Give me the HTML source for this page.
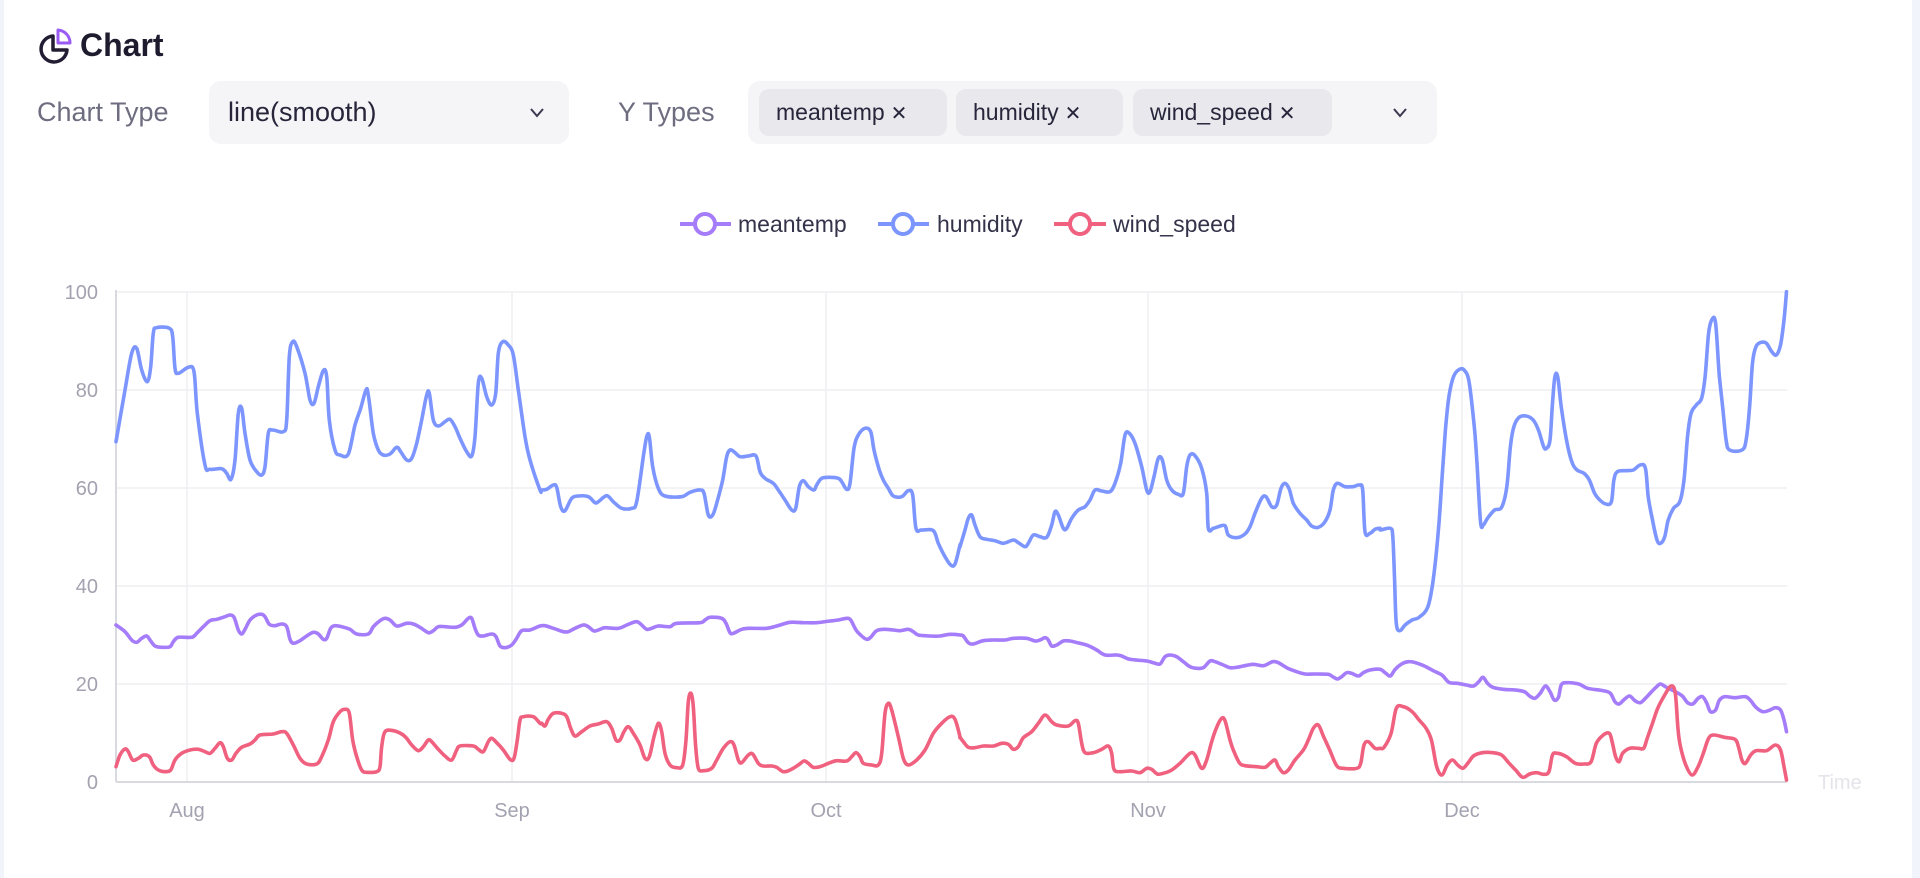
<!DOCTYPE html>
<html><head><meta charset="utf-8">
<style>
body{margin:0;width:1920px;height:878px;background:#fff;position:relative;overflow:hidden;font-family:"Liberation Sans",sans-serif;}
.a{position:absolute;}
.lbl{color:#6e6d80;font-size:27px;top:97px;}
.box{background:#f5f5f8;border-radius:12px;top:81px;height:63px;}
.tag{background:#e9e8ed;border-radius:10px;top:89px;height:47px;line-height:47px;font-size:23px;color:#27253a;padding-left:17px;box-sizing:border-box;}
.tag span{font-size:20px;margin-left:6px;}
</style></head><body>
<div class="a" style="left:0;top:0;width:4px;height:878px;background:#f2f4fb"></div>
<div class="a" style="left:1912px;top:0;width:8px;height:878px;background:#f2f4fb"></div>
<svg class="a" style="left:36px;top:27px" width="40" height="40" viewBox="0 0 40 40">
<path d="M17 9 A13 13 0 1 0 31 23 L17 23 Z" fill="none" stroke="#221d33" stroke-width="3.5" stroke-linejoin="round"/>
<path d="M22 3 A13 13 0 0 1 34 16 L22 16 Z" fill="none" stroke="#9b5cf6" stroke-width="3" stroke-linejoin="round"/>
</svg>
<div class="a" style="left:80px;top:27px;font-size:32px;font-weight:bold;color:#1e1b2e">Chart</div>
<div class="a lbl" style="left:37px">Chart Type</div>
<div class="a box" style="left:209px;width:360px"></div>
<div class="a" style="left:228px;top:97px;font-size:27px;color:#27253a">line(smooth)</div>
<svg class="a" style="left:529px;top:107px" width="16" height="12"><path d="M2 2 L8 9 L14 2" fill="none" stroke="#3b3950" stroke-width="2"/></svg>
<div class="a lbl" style="left:618px">Y Types</div>
<div class="a box" style="left:748px;width:689px"></div>
<div class="a tag" style="left:759px;width:188px">meantemp<span>✕</span></div>
<div class="a tag" style="left:956px;width:167px">humidity<span>✕</span></div>
<div class="a tag" style="left:1133px;width:199px">wind_speed<span>✕</span></div>
<svg class="a" style="left:1392px;top:107px" width="16" height="12"><path d="M2 2 L8 9 L14 2" fill="none" stroke="#3b3950" stroke-width="2"/></svg>

<svg class="a" style="left:0;top:0" width="1920" height="878" id="ch">
<g font-size="23" fill="#35334a">
<line x1="680" y1="224" x2="731" y2="224" stroke="#a57cf9" stroke-width="4"/><circle cx="705" cy="224" r="10" fill="#fff" stroke="#a57cf9" stroke-width="4"/><text x="738" y="232">meantemp</text>
<line x1="878" y1="224" x2="929" y2="224" stroke="#7c95ff" stroke-width="4"/><circle cx="903" cy="224" r="10" fill="#fff" stroke="#7c95ff" stroke-width="4"/><text x="937" y="232">humidity</text>
<line x1="1054" y1="224" x2="1106" y2="224" stroke="#f0607f" stroke-width="4"/><circle cx="1080" cy="224" r="10" fill="#fff" stroke="#f0607f" stroke-width="4"/><text x="1113" y="232">wind_speed</text>
</g>
<g stroke="#efeff2" stroke-width="1.5">
<line x1="116" y1="292" x2="1787" y2="292"/><line x1="116" y1="390" x2="1787" y2="390"/><line x1="116" y1="488" x2="1787" y2="488"/><line x1="116" y1="586" x2="1787" y2="586"/><line x1="116" y1="684" x2="1787" y2="684"/>
<line x1="187" y1="292" x2="187" y2="782"/><line x1="512" y1="292" x2="512" y2="782"/><line x1="826" y1="292" x2="826" y2="782"/><line x1="1148" y1="292" x2="1148" y2="782"/><line x1="1462" y1="292" x2="1462" y2="782"/>
</g>
<line x1="116" y1="290" x2="116" y2="782" stroke="#d9d9e0" stroke-width="2"/>
<line x1="116" y1="782" x2="1787" y2="782" stroke="#d9d9e0" stroke-width="2"/>
<g font-size="20" fill="#a3a2b0" text-anchor="end">
<text x="98" y="299">100</text><text x="98" y="397">80</text><text x="98" y="495">60</text><text x="98" y="593">40</text><text x="98" y="691">20</text><text x="98" y="789">0</text>
</g>
<g font-size="20" fill="#a3a2b0" text-anchor="middle">
<text x="187" y="817">Aug</text><text x="512" y="817">Sep</text><text x="826" y="817">Oct</text><text x="1148" y="817">Nov</text><text x="1462" y="817">Dec</text>
</g>
<text x="1818" y="789" font-size="20" fill="#e4e4ea">Time</text>
<g fill="none" stroke-width="3.6" stroke-linejoin="round" stroke-linecap="round">
<path id="h" stroke="#7c95ff"/><path id="m" stroke="#a57cf9"/><path id="w" stroke="#f0607f"/>
</g>
</svg>
<script>
var Z=[[110,3,0],[530,3,30],[950,3,30],[1370,2.85,28]];
function cv(zs){var out=[];zs.forEach(function(a,i){var z=Z[i];for(var k=0;k<a.length;k+=2){if(a[k]<z[2])continue;out.push([z[0]+a[k]/z[1],280+a[k+1]/3]);}});out.sort(function(p,q){return p[0]-q[0]});return out;}
function path(p){var d="M"+p[0][0].toFixed(1)+" "+p[0][1].toFixed(1);for(var i=0;i<p.length-1;i++){var p0=p[i-1]||p[i],p1=p[i],p2=p[i+1],p3=p[i+2]||p2;var t=6;d+=" C"+(p1[0]+(p2[0]-p0[0])/t).toFixed(1)+" "+(p1[1]+(p2[1]-p0[1])/t).toFixed(1)+" "+(p2[0]-(p3[0]-p1[0])/t).toFixed(1)+" "+(p2[1]-(p3[1]-p1[1])/t).toFixed(1)+" "+p2[0].toFixed(1)+" "+p2[1].toFixed(1);}return d;}
var H=[[18,485,45,330,65,220,80,205,95,270,112,305,122,260,130,160,140,143,178,145,188,170,195,265,205,280,235,262,252,275,262,400,285,555,300,568,335,566,350,580,363,598,375,540,385,400,395,385,405,460,420,540,440,575,455,585,465,560,475,460,488,450,520,455,530,420,538,230,548,185,560,200,585,280,600,360,612,370,625,320,640,272,650,290,658,420,675,510,690,525,715,522,735,435,752,385,768,330,775,345,790,460,805,510,820,525,840,522,860,502,872,515,890,540,905,535,920,490,935,420,950,345,958,340,970,420,985,438,1005,425,1020,418,1035,440,1050,475,1070,515,1085,528,1095,470,1105,310,1115,295,1130,350,1145,375,1157,340,1165,220,1178,185,1195,195,1210,225,1225,330,1245,470,1260,540,1290,630],
[35,630,50,628,70,615,80,622,92,680,105,692,125,655,145,648,175,650,195,668,205,665,230,647,250,665,275,685,305,685,320,665,340,530,350,470,358,470,368,560,385,625,405,648,455,650,480,637,510,630,522,640,535,705,548,705,560,670,578,600,590,530,600,510,612,515,630,530,655,528,678,528,690,575,705,595,730,610,745,630,765,660,785,690,797,685,808,620,820,602,835,620,852,630,860,615,875,595,900,592,925,595,935,605,950,628,960,610,972,505,985,465,1005,445,1022,455,1032,510,1048,570,1060,600,1075,625,1090,648,1115,650,1135,632,1148,645,1158,745,1175,750,1210,752,1225,790,1245,830,1262,855,1275,852,1290,795],
[30,800,45,750,55,715,65,705,75,735,90,770,110,778,135,782,160,790,190,780,205,788,225,800,235,790,250,765,270,770,290,772,305,735,315,695,325,705,340,745,350,745,365,715,385,690,405,680,420,660,435,630,455,633,480,635,495,610,512,550,525,465,538,460,555,490,575,560,590,630,600,635,612,590,625,535,637,540,650,600,665,630,685,643,700,640,710,560,720,525,735,527,755,565,770,640,775,745,790,745,805,740,825,737,835,765,860,773,885,762,900,740,915,700,935,655,948,650,965,680,980,675,993,625,1005,610,1018,628,1030,670,1050,700,1070,720,1085,738,1105,742,1125,725,1140,690,1150,630,1162,610,1185,620,1210,620,1228,615,1238,630,1245,755,1260,760,1275,748,1290,745],
[30,750,58,745,65,770,70,900,75,1030,85,1052,100,1035,120,1020,140,1012,165,980,180,900,195,750,205,600,215,450,225,350,238,290,255,268,270,272,283,310,298,450,305,550,315,725,323,735,335,715,355,690,375,682,390,620,400,500,410,440,425,412,445,408,465,420,480,450,495,500,503,505,513,480,520,370,527,290,535,290,545,380,560,480,575,545,590,570,610,580,625,600,640,640,655,660,672,672,688,665,695,600,705,575,730,572,750,570,770,555,785,565,793,650,805,720,818,780,828,790,840,770,850,720,865,685,883,665,895,600,905,470,915,400,930,375,945,355,955,290,965,160,975,118,985,130,995,280,1005,380,1015,480,1025,510,1060,510,1072,480,1082,380,1090,250,1100,200,1115,187,1130,190,1145,215,1158,225,1170,195,1180,120,1187,35]];
var M=[[18,1035,45,1055,65,1080,80,1087,95,1075,110,1068,120,1080,135,1098,155,1102,180,1100,190,1085,205,1072,245,1072,260,1060,280,1040,300,1022,320,1018,345,1010,360,1005,372,1012,385,1050,395,1062,405,1048,420,1020,440,1005,455,1003,465,1010,478,1033,495,1037,515,1032,530,1040,540,1078,550,1090,570,1082,590,1068,610,1057,625,1062,640,1078,650,1075,662,1045,675,1037,695,1040,720,1048,740,1062,775,1062,790,1040,810,1022,825,1015,840,1020,855,1035,865,1038,890,1030,910,1032,930,1042,955,1058,970,1052,985,1040,1005,1040,1035,1042,1055,1035,1075,1015,1085,1015,1095,1045,1105,1065,1120,1068,1145,1062,1158,1070,1170,1098,1185,1103,1205,1095,1220,1075,1235,1052,1260,1050,1290,1038],
[45,1037,70,1045,100,1055,115,1055,135,1045,160,1035,175,1040,192,1053,210,1048,225,1043,265,1045,295,1033,320,1025,335,1035,350,1048,365,1045,385,1038,420,1040,440,1030,510,1028,525,1020,540,1012,575,1015,588,1030,600,1058,610,1060,635,1048,660,1045,710,1045,740,1038,780,1027,820,1028,860,1028,900,1023,925,1020,950,1015,962,1020,978,1050,995,1068,1010,1078,1022,1072,1040,1052,1065,1048,1090,1050,1110,1052,1135,1048,1150,1055,1165,1065,1200,1068,1230,1068,1260,1063,1290,1065],
[40,1068,55,1088,70,1092,100,1082,130,1080,165,1080,190,1075,230,1075,255,1083,270,1080,285,1073,295,1080,305,1098,320,1095,340,1083,360,1083,390,1090,415,1097,440,1110,465,1125,500,1125,515,1128,540,1138,590,1143,610,1148,630,1152,645,1130,660,1125,680,1130,700,1145,720,1160,740,1165,760,1163,780,1143,795,1145,820,1155,840,1163,860,1162,880,1158,910,1153,940,1157,968,1145,985,1148,1010,1163,1040,1175,1065,1182,1100,1182,1135,1183,1148,1190,1162,1197,1175,1190,1190,1178,1205,1180,1225,1188,1240,1178,1260,1170,1290,1168],
[45,1180,58,1188,72,1168,90,1152,110,1145,130,1148,155,1158,180,1172,205,1185,225,1207,250,1210,275,1215,295,1218,310,1205,322,1192,335,1210,350,1222,380,1228,415,1230,440,1235,455,1248,470,1255,485,1240,500,1218,513,1235,525,1260,537,1252,545,1215,560,1208,595,1212,620,1225,665,1232,685,1240,698,1265,710,1272,725,1258,740,1248,755,1262,770,1268,785,1255,800,1238,815,1222,828,1212,845,1222,870,1235,890,1248,905,1268,920,1272,935,1255,948,1250,960,1270,970,1295,985,1290,995,1262,1010,1250,1040,1253,1070,1250,1085,1262,1100,1282,1120,1295,1140,1290,1155,1283,1170,1290,1180,1320,1187,1355]];
var W=[[18,1460,30,1425,45,1407,55,1415,68,1440,85,1435,100,1425,118,1430,130,1455,145,1470,165,1475,182,1470,195,1440,215,1420,240,1410,265,1408,285,1415,300,1420,315,1405,330,1388,340,1400,352,1435,365,1440,378,1420,395,1402,420,1392,435,1380,450,1365,490,1362,515,1355,530,1360,550,1395,570,1435,590,1452,620,1452,635,1430,655,1380,670,1325,690,1295,705,1288,718,1300,728,1380,740,1430,755,1470,770,1477,800,1475,810,1460,815,1400,825,1355,850,1352,875,1362,890,1375,905,1395,925,1412,940,1400,955,1380,965,1385,985,1408,1005,1428,1025,1440,1040,1410,1050,1398,1090,1398,1105,1408,1120,1415,1135,1385,1145,1375,1160,1388,1180,1410,1200,1438,1212,1435,1222,1380,1230,1320,1240,1310,1270,1310,1290,1330],
[35,1330,45,1338,55,1318,70,1300,95,1300,110,1310,122,1345,135,1368,155,1355,180,1338,205,1332,230,1325,245,1345,258,1380,270,1380,282,1355,295,1340,310,1360,330,1395,345,1435,358,1430,372,1370,385,1330,395,1355,405,1420,420,1455,440,1463,458,1455,468,1380,475,1265,483,1240,490,1280,497,1400,505,1465,520,1472,545,1465,560,1440,580,1405,600,1385,612,1395,625,1440,635,1448,655,1425,668,1422,685,1450,700,1458,725,1458,740,1462,760,1475,780,1470,805,1455,822,1443,835,1450,850,1462,870,1460,900,1448,920,1442,950,1443,965,1430,978,1418,990,1430,1000,1450,1025,1455,1045,1455,1055,1420,1065,1300,1075,1270,1085,1290,1105,1370,1120,1435,1135,1455,1160,1440,1185,1410,1210,1360,1235,1330,1260,1310,1275,1318,1290,1370],
[30,1372,40,1385,55,1402,75,1403,100,1398,130,1398,155,1390,175,1393,190,1408,205,1400,220,1373,245,1355,265,1330,285,1305,305,1325,320,1335,355,1338,375,1322,385,1330,395,1390,405,1418,430,1418,455,1408,475,1398,485,1420,492,1468,510,1475,545,1473,570,1478,590,1465,605,1468,622,1482,640,1480,665,1470,690,1450,720,1420,735,1425,755,1465,770,1440,785,1385,800,1342,815,1315,825,1322,840,1380,850,1410,868,1448,885,1457,920,1460,945,1462,960,1450,975,1440,985,1460,1000,1478,1015,1470,1035,1440,1060,1410,1075,1380,1090,1345,1105,1335,1120,1368,1140,1412,1160,1457,1180,1465,1220,1465,1232,1450,1242,1395,1255,1385,1275,1405,1290,1405],
[40,1402,60,1360,75,1285,95,1280,120,1295,140,1320,160,1345,175,1380,190,1460,205,1485,220,1455,235,1440,250,1455,265,1465,280,1448,295,1428,320,1418,350,1418,375,1425,395,1448,415,1470,435,1492,455,1482,475,1478,495,1483,510,1475,520,1425,535,1420,560,1430,585,1450,610,1452,630,1445,645,1390,665,1365,682,1360,690,1385,700,1430,710,1445,720,1420,740,1405,765,1405,780,1405,790,1375,805,1330,820,1285,840,1245,858,1218,870,1240,878,1350,885,1400,900,1455,918,1485,935,1460,950,1420,965,1375,980,1365,1010,1372,1040,1378,1050,1400,1060,1440,1070,1450,1085,1425,1100,1412,1130,1412,1155,1395,1170,1410,1180,1460,1187,1500]];
document.getElementById('h').setAttribute('d',path(cv(H)));
document.getElementById('m').setAttribute('d',path(cv(M)));
document.getElementById('w').setAttribute('d',path(cv(W)));
</script>
</body></html>
